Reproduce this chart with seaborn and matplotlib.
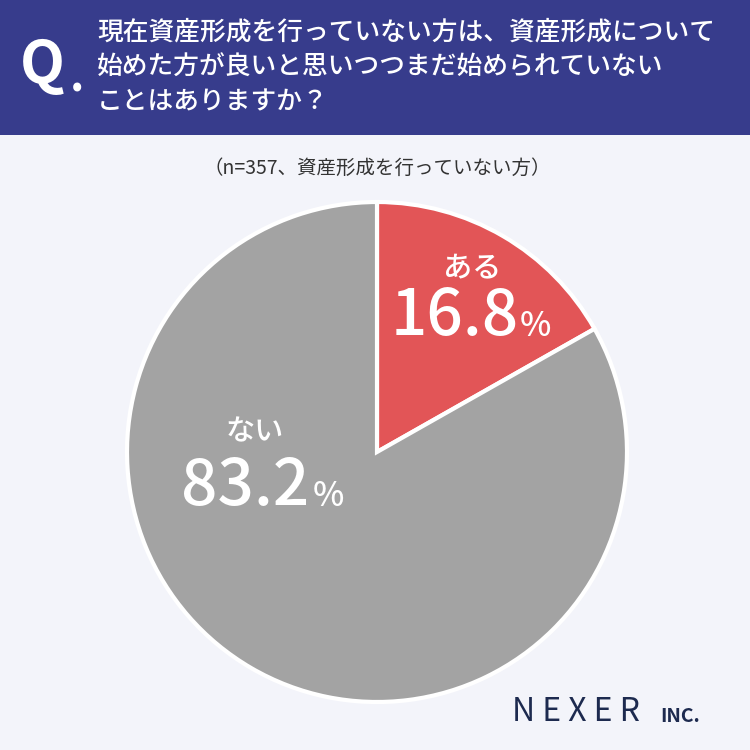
import matplotlib.pyplot as plt
import seaborn as sns

labels = ["ある", "ない"]
values = [16.8, 83.2]
colors = ["#e25557", "#a3a3a3"]

sns.set_theme(style="white")
plt.rcParams['font.family'] = ['Noto Sans CJK JP', 'DejaVu Sans']

fig = plt.figure(figsize=(7.5, 7.5), dpi=100)
fig.patch.set_facecolor("#f3f4fa")

# header band
hdr = fig.add_axes([0, 1 - 135 / 750, 1, 135 / 750])
hdr.set_facecolor("#373c8c")
hdr.set_xticks([]); hdr.set_yticks([])
for s in hdr.spines.values():
    s.set_visible(False)
fig.text(20 / 750, 1 - 66 / 750, "Q", color="white", fontsize=42, fontweight="bold", va="center")
fig.text(70 / 750, 1 - 78 / 750, ".", color="white", fontsize=32, fontweight="bold", va="center")
qlines = ["現在資産形成を行っていない方は、資産形成について",
          "始めた方が良いと思いつつまだ始められていない",
          "ことはありますか？"]
for i, t in enumerate(qlines):
    fig.text(97 / 750, 1 - (32 + 35 * i) / 750, t, color="white", fontsize=18.5,
             va="center", fontweight="medium")

fig.text(377 / 750, 1 - 168 / 750, "（n=357、資産形成を行っていない方）", color="#333333",
         fontsize=14, ha="center", va="center")

ax = fig.add_axes([127 / 750, 48 / 750, 500 / 750, 500 / 750])
ax.pie(values, colors=colors, startangle=90, counterclock=False,
       wedgeprops=dict(edgecolor="white", linewidth=3))
ax.set_xlim(-1, 1); ax.set_ylim(-1, 1)
ax.set_aspect("equal")

fig.text(472 / 750, 1 - 268 / 750, labels[0], color="white", fontsize=21, ha="center",
         va="center", fontweight="medium")
fig.text(455 / 750, 1 - 316 / 750, "16.8", color="white", fontsize=46, ha="center",
         va="center", fontweight="medium")
fig.text(535 / 750, 1 - 326 / 750, "%", color="white", fontsize=24, ha="center",
         va="center", fontweight="medium")
fig.text(255 / 750, 1 - 432 / 750, labels[1], color="white", fontsize=21, ha="center",
         va="center", fontweight="medium")
fig.text(245 / 750, 1 - 486 / 750, "83.2", color="white", fontsize=46, ha="center",
         va="center", fontweight="medium")
fig.text(328 / 750, 1 - 496 / 750, "%", color="white", fontsize=24, ha="center",
         va="center", fontweight="medium")

fig.text(512 / 750, 1 - 712 / 750, "N E X E R", color="#1d2a4f", fontsize=23, va="center")
fig.text(660 / 750, 1 - 716 / 750, "INC.", color="#1d2a4f", fontsize=14, va="center",
         fontweight="bold")

fig.savefig("out.png", dpi=100, facecolor=fig.get_facecolor())
